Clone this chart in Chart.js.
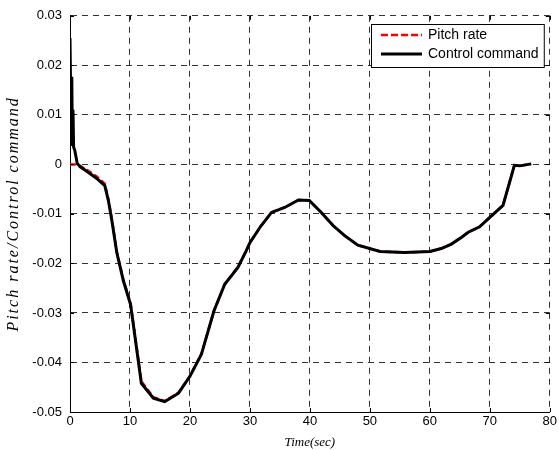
<!DOCTYPE html>
<html lang="en">

<head>
    <meta charset="UTF-8">
    <title>Pitch rate / Control command</title>
    <script src="https://cdn.jsdelivr.net/npm/chart.js"></script>
    <style>
        body {
            margin: 0;
            background: #fff;
        }

        #wrap {
            width: 559px;
            height: 450px;
        }
    </style>
</head>

<body>
    <div id="wrap"><canvas id="rateChart" width="559" height="450"></canvas></div>

    <script>
        // time (sec)
        const timeSec = [0, 0.2, 0.3, 0.4, 0.5, 0.6, 0.8, 1.2, 1.7, 2.8, 4.4, 5.8, 6.4, 7.0, 7.8, 8.9, 10.1, 11.9, 13.9, 15.8,
            18.1, 20, 21.9, 24, 25.8, 28, 29.4, 30, 31.8, 33.6, 35.8, 38.1, 39.9, 41.9, 43.9, 45.8, 48, 51.7, 55.8,
            60, 61.9, 63.6, 65.3, 66.4, 68.3, 70, 72.2, 74.1, 75, 76.9];

        const pitchRate = [0, 0, 0, 0, 0, 0, 0, -0.0001, -0.0003, -0.0011, -0.0024, -0.0039, -0.0070, -0.0112, -0.0176, -0.0233, -0.0280, -0.0438, -0.0470, -0.0478,
            -0.0461, -0.0427, -0.0383, -0.0296, -0.0242, -0.0207, -0.0174, -0.0158, -0.0125, -0.0097, -0.0087, -0.0072, -0.0073, -0.0097, -0.0124, -0.0144, -0.0163, -0.0176, -0.0178,
            -0.0176, -0.0170, -0.0161, -0.0147, -0.0137, -0.0126, -0.0107, -0.0083, -0.0002, -0.0003, 0.0001];

        const controlCmd = [0.0255, 0.005, 0.0177, 0.004, 0.011, 0.0035, 0.0028, 0.0002, -0.0005, -0.0014, -0.0028, -0.0043, -0.0073, -0.0115, -0.0178, -0.0235, -0.0283, -0.0442, -0.0472, -0.0479,
            -0.0462, -0.0428, -0.0384, -0.0296, -0.0242, -0.0208, -0.0174, -0.0158, -0.0125, -0.0097, -0.0087, -0.0072, -0.0073, -0.0097, -0.0124, -0.0144, -0.0163, -0.0176, -0.0178,
            -0.0176, -0.0170, -0.0161, -0.0147, -0.0137, -0.0126, -0.0107, -0.0083, -0.0002, -0.0003, 0.0001];

        const xTicks = [0, 10, 20, 30, 40, 50, 60, 70, 80];
        const yTicks = [0.03, 0.02, 0.01, 0, -0.01, -0.02, -0.03, -0.04, -0.05];

        const seriesNames = ['Pitch rate', 'Control command'];
        const yTitle = 'Pitch rate/Control command';

        const toPoints = (vals) => vals.map((v, i) => ({ x: timeSec[i], y: v }));

        // small inward ticks on all four sides, like matlab
        const innerTicks = {
            id: 'innerTicks',
            afterDraw(chart) {
                const { ctx, chartArea: a, scales } = chart;
                ctx.save();
                ctx.strokeStyle = '#000';
                ctx.lineWidth = 1;
                ctx.beginPath();
                xTicks.forEach(t => {
                    const px = Math.round(scales.x.getPixelForValue(t)) + 0.5;
                    ctx.moveTo(px, a.bottom); ctx.lineTo(px, a.bottom - 4);
                    ctx.moveTo(px, a.top); ctx.lineTo(px, a.top + 4);
                });
                yTicks.forEach(t => {
                    const py = Math.round(scales.y.getPixelForValue(t)) + 0.5;
                    ctx.moveTo(a.left, py); ctx.lineTo(a.left + 4, py);
                    ctx.moveTo(a.right, py); ctx.lineTo(a.right - 4, py);
                });
                ctx.stroke();
                ctx.restore();
            }
        };

        // y title, drawn by hand because it needs letter spacing
        const yTitlePlugin = {
            id: 'yTitlePlugin',
            afterDraw(chart) {
                const ctx = chart.ctx;
                const a = chart.chartArea;
                ctx.save();
                ctx.translate(14, (a.top + a.bottom) / 2);
                ctx.rotate(-Math.PI / 2);
                ctx.font = 'italic 16px "Liberation Serif", "Times New Roman", serif';
                ctx.letterSpacing = '2px';
                ctx.fillStyle = '#000';
                ctx.textAlign = 'center';
                ctx.textBaseline = 'middle';
                ctx.fillText(yTitle, 0, 0);
                ctx.restore();
            }
        };

        // legend box in the top right corner
        const boxLegend = {
            id: 'boxLegend',
            afterDraw(chart) {
                const ctx = chart.ctx;
                const a = chart.chartArea;
                const bx = 371, by = 24, bw = a.right - 6 - bx, bh = 43;
                ctx.save();
                ctx.fillStyle = '#fff';
                ctx.fillRect(bx, by, bw, bh);
                ctx.strokeStyle = '#000';
                ctx.lineWidth = 1;
                ctx.strokeRect(bx + 0.5, by + 0.5, bw, bh);

                ctx.lineWidth = 2.5;
                ctx.strokeStyle = '#ff0000';
                ctx.setLineDash([7, 3]);
                ctx.beginPath(); ctx.moveTo(381, by + 11); ctx.lineTo(422, by + 11); ctx.stroke();
                ctx.setLineDash([]);
                ctx.strokeStyle = '#000';
                ctx.lineWidth = 3;
                ctx.beginPath(); ctx.moveTo(381, by + 30); ctx.lineTo(422, by + 30); ctx.stroke();

                ctx.fillStyle = '#000';
                ctx.font = '14px "Liberation Sans", Arial, sans-serif';
                ctx.textBaseline = 'middle';
                ctx.fillText(seriesNames[0], 428, by + 11);
                ctx.fillText(seriesNames[1], 428, by + 30);
                ctx.restore();
            }
        };

        const tickFont = { family: '"Liberation Sans", Arial, sans-serif', size: 13 };
        const gridStyle = {
            color: '#333',
            lineWidth: 1,
            drawTicks: false
        };
        // in chart.js v4 border.dash sets the dashes of the grid lines
        const borderStyle = { display: true, color: '#000', width: 1, dash: [6, 5] };

        const ctx = document.getElementById('rateChart').getContext('2d');
        const rateChart = new Chart(ctx, {
            type: 'line',
            data: {
                datasets: [
                    {
                        label: seriesNames[0], data: toPoints(pitchRate), borderColor: '#ff0000',
                        borderWidth: 2.5, borderDash: [6, 3], pointRadius: 0, fill: false, tension: 0, order: 1
                    },
                    {
                        label: seriesNames[1], data: toPoints(controlCmd), borderColor: '#000',
                        borderWidth: 3, pointRadius: 0, fill: false, tension: 0, order: 0
                    }
                ]
            },
            options: {
                responsive: false,
                animation: false,
                layout: { padding: { top: 15, right: 8, left: 0, bottom: 0 } },
                plugins: { legend: { display: false }, tooltip: { enabled: false } },
                scales: {
                    x: {
                        type: 'linear', min: 0, max: 80,
                        afterFit(s) { s.height = 38; },
                        afterBuildTicks(s) { s.ticks = xTicks.map(v => ({ value: v })); },
                        ticks: { color: '#000', font: tickFont, padding: 2, maxRotation: 0 },
                        grid: gridStyle,
                        border: borderStyle,
                        title: {
                            display: true, text: 'Time(sec)', color: '#000',
                            font: { family: '"Liberation Serif", "Times New Roman", serif', style: 'italic', size: 13 },
                            padding: { top: 0, bottom: 0 }
                        }
                    },
                    y: {
                        type: 'linear', min: -0.05, max: 0.03,
                        afterFit(s) { s.width = 70; },
                        afterBuildTicks(s) { s.ticks = yTicks.map(v => ({ value: v })); },
                        ticks: {
                            color: '#000', font: tickFont, padding: 8,
                            callback: v => String(Number(v.toFixed(2)))
                        },
                        grid: gridStyle,
                        border: borderStyle
                    }
                }
            },
            plugins: [innerTicks, yTitlePlugin, boxLegend]
        });
    </script>
</body>

</html>
